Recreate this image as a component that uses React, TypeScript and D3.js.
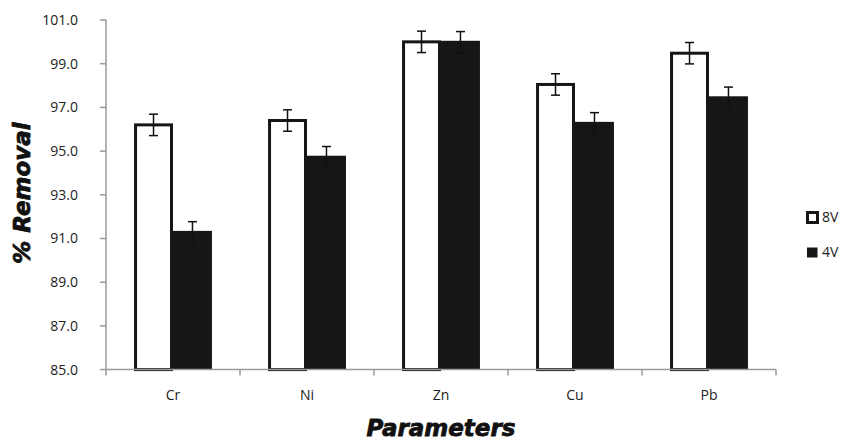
import React from "react";
import * as d3 from "d3";

const categories = ["Cr", "Ni", "Zn", "Cu", "Pb"];
const seriesNames = ["8V", "4V"];
const values8V = [96.2, 96.4, 100.0, 98.05, 99.48];
const values4V = [91.28, 94.72, 99.98, 96.27, 97.44];
const errors8V = [0.49, 0.49, 0.49, 0.49, 0.49];
const errors4V = [0.49, 0.49, 0.49, 0.49, 0.49];
const yTicks = [85, 87, 89, 91, 93, 95, 97, 99, 101];

const W = 843;
const H = 440;
const left = 106;
const right = 776;
const top = 20;
const bottom = 369.6;

export default function App() {
  const x = d3.scaleBand<string>().domain(categories).range([left, right]).paddingInner(0).paddingOuter(0);
  const inner = d3.scaleBand<string>().domain(seriesNames).range([0, x.bandwidth()]).paddingInner(0).paddingOuter(0.72);
  const y = d3.scaleLinear().domain([85, 101]).range([bottom, top]);
  const series = [
    { name: "8V", values: values8V, errors: errors8V },
    { name: "4V", values: values4V, errors: errors4V },
  ];
  const bw = inner.bandwidth();
  const axisColor = "#9a9a9a";
  const dark = "#161616";
  const font = "'Open Sans', 'DejaVu Sans', sans-serif";
  return (
    <svg width={W} height={H} style={{ position: "absolute", left: 0, top: 0, background: "#fff" }}>
      {series.map((s) =>
        categories.map((c, i) => {
          const bx = (x(c) as number) + (inner(s.name) as number);
          const by = y(s.values[i]);
          if (s.name === "8V") {
            return (
              <rect key={s.name + c} x={bx + 1.5} y={by} width={bw - 3} height={y(85) - by}
                fill="#fff" stroke={dark} strokeWidth={3} />
            );
          }
          return <rect key={s.name + c} x={bx} y={by - 1.5} width={bw} height={y(85) - by + 1.5} fill={dark} />;
        })
      )}
      {series.map((s) =>
        categories.map((c, i) => {
          const cx = (x(c) as number) + (inner(s.name) as number) + bw / 2;
          const y1 = y(s.values[i] + s.errors[i]);
          const y2 = y(s.values[i] - s.errors[i]);
          return (
            <g key={"e" + s.name + c} stroke="#111" strokeWidth={1.5}>
              <line x1={cx} x2={cx} y1={y1} y2={y2} />
              <line x1={cx - 4.5} x2={cx + 4.5} y1={y1} y2={y1} />
              <line x1={cx - 4.5} x2={cx + 4.5} y1={y2} y2={y2} />
            </g>
          );
        })
      )}
      <line x1={left} x2={left} y1={top} y2={bottom} stroke={axisColor} strokeWidth={1.5} />
      {yTicks.map((t) => (
        <g key={t}>
          <line x1={left - 6} x2={left} y1={y(t)} y2={y(t)} stroke={axisColor} strokeWidth={1.5} />
          <text x={78} y={y(t)} dy="0.35em" textAnchor="end" fontFamily={font} fontSize={14} fill="#222">
            {t.toFixed(1)}
          </text>
        </g>
      ))}
      <line x1={left} x2={right} y1={bottom} y2={bottom} stroke={axisColor} strokeWidth={1.5} />
      {categories.concat(["__end"]).map((c, i) => {
        const tx = left + i * x.step();
        return <line key={"t" + i} x1={tx} x2={tx} y1={bottom} y2={bottom + 6} stroke={axisColor} strokeWidth={1.5} />;
      })}
      {categories.map((c) => (
        <text key={"l" + c} x={(x(c) as number) + x.bandwidth() / 2} y={400} textAnchor="middle"
          fontFamily={font} fontSize={14} fill="#222">
          {c}
        </text>
      ))}
      <text x={441} y={436} textAnchor="middle" fontFamily="'DejaVu Sans', sans-serif" fontWeight="bold"
        fontStyle="italic" fontSize={23} fill="#111" stroke="#111" strokeWidth={0.8}>
        Parameters
      </text>
      <text transform="translate(30,193) rotate(-90)" textAnchor="middle" fontFamily="'DejaVu Sans', sans-serif"
        fontWeight="bold" fontStyle="italic" fontSize={23} fill="#111" stroke="#111" strokeWidth={0.8}>
        % Removal
      </text>
      <rect x={807.5} y={212.5} width={10} height={10} fill="#fff" stroke={dark} strokeWidth={3} />
      <text x={822} y={217.5} dy="0.35em" fontFamily={font} fontSize={14} fill="#222">8V</text>
      <rect x={807} y={247.5} width={10.5} height={10} fill={dark} />
      <text x={822} y={252.5} dy="0.35em" fontFamily={font} fontSize={14} fill="#222">4V</text>
    </svg>
  );
}
